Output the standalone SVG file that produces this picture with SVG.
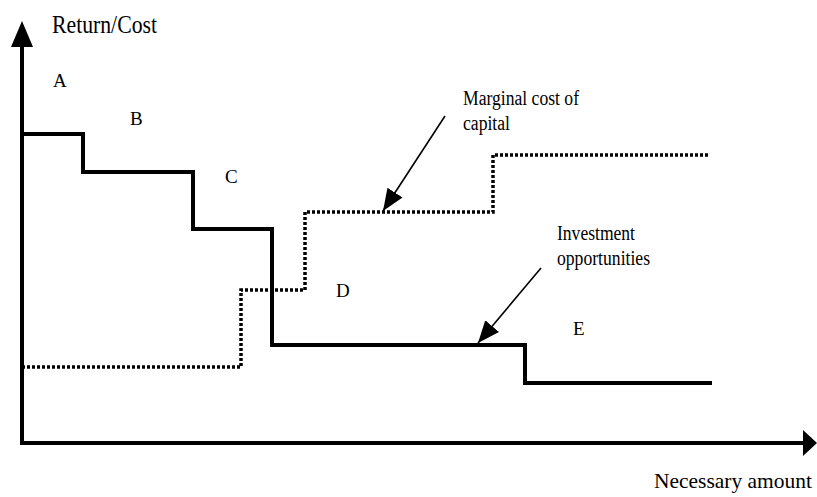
<svg xmlns="http://www.w3.org/2000/svg" width="817" height="497" viewBox="0 0 817 497">
<defs>
<style>
text{font-family:'Liberation Serif','Times New Roman',serif;fill:#000;}
.solid{fill:none;stroke:#000;stroke-width:4;stroke-linejoin:miter;}
.dot{fill:none;stroke:#000;stroke-width:3.5;stroke-dasharray:3 2;}
.axis{fill:none;stroke:#000;stroke-width:4;}
.call{fill:none;stroke:#000;stroke-width:1.6;}
</style>
<marker id="ah" markerUnits="userSpaceOnUse" markerWidth="24" markerHeight="20" refX="22" refY="9" orient="auto">
<path d="M0,0 L22,9 L0,18 Z" fill="#000"/>
</marker>
</defs>
<g id="axes">
<line class="axis" x1="22" y1="44" x2="22" y2="443"/>
<polygon points="22,21 11,47 33,47" fill="#000"/>
<line class="axis" x1="20" y1="443" x2="804" y2="443"/>
<polygon points="817,443 803,430 803,456" fill="#000"/>
</g>
<g id="investment-curve">
<polyline class="solid" points="22,134 83,134 83,172 193,172 193,229 272,229 272,345 525,345 525,383 712,383"/>
</g>
<g id="mcc-curve">
<polyline class="dot" points="22,367 241,367 241,290 305,290 305,212 493,212 493,155 710,155"/>
</g>
<g id="connectors">
<line class="call" x1="445" y1="116" x2="383" y2="211" marker-end="url(#ah)"/>
<line class="call" x1="541" y1="268" x2="478" y2="343" marker-end="url(#ah)"/>
</g>
<g id="labels">
<text x="52" y="33" font-size="25" textLength="105" lengthAdjust="spacingAndGlyphs">Return/Cost</text>
<text x="654" y="488" font-size="21" textLength="158" lengthAdjust="spacingAndGlyphs">Necessary amount</text>
<text x="463" y="105" font-size="20" textLength="116" lengthAdjust="spacingAndGlyphs">Marginal cost of</text>
<text x="463" y="130" font-size="20" textLength="47" lengthAdjust="spacingAndGlyphs">capital</text>
<text x="557" y="240" font-size="20" textLength="78" lengthAdjust="spacingAndGlyphs">Investment</text>
<text x="557" y="265" font-size="20" textLength="93" lengthAdjust="spacingAndGlyphs">opportunities</text>
<text x="53" y="87" font-size="19">A</text>
<text x="130" y="125" font-size="19">B</text>
<text x="225" y="183" font-size="19">C</text>
<text x="336" y="297" font-size="19">D</text>
<text x="573" y="335" font-size="19">E</text>
</g>
</svg>
